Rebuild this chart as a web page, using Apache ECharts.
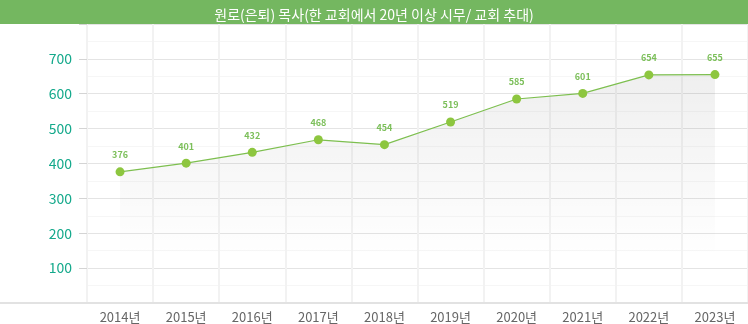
<!DOCTYPE html>
<html>
<head>
<meta charset="utf-8">
<script src="https://cdn.jsdelivr.net/npm/echarts@6/dist/echarts.min.js"></script>
<style>
  html, body { margin: 0; padding: 0; background: #fff; }
  #chart { width: 748px; height: 324px; }
</style>
</head>
<body>
<div id="chart"></div>
<script>
// Retired pastors per year
const years = ['2014년', '2015년', '2016년', '2017년', '2018년', '2019년', '2020년', '2021년', '2022년', '2023년'];
const pastors = [376, 401, 432, 468, 454, 519, 585, 601, 654, 655];
const yTicks = [100, 200, 300, 400, 500, 600, 700];
const titleText = '원로(은퇴) 목사(한 교회에서 20년 이상 시무/ 교회 추대)';

const FONT = '"Noto Sans CJK KR", "Noto Sans", sans-serif';
const chart = echarts.init(document.getElementById('chart'), null, { renderer: 'canvas' });

chart.setOption({
  animation: false,
  backgroundColor: '#ffffff',
  title: {
    text: titleText,
    left: 'center',
    top: 3,
    textStyle: { color: '#ffffff', fontSize: 14, fontWeight: 'normal', fontFamily: FONT }
  },
  graphic: [
    { type: 'rect', z: -1, shape: { x: 0, y: 0, width: 748, height: 24 }, style: { fill: '#74b760' } },
    { type: 'rect', z: 10, shape: { x: 0, y: 302, width: 748, height: 2 }, style: { fill: '#e2e2e2' } }
  ],
  grid: { left: 87, right: -1, top: 24, bottom: 20 },
  xAxis: {
    type: 'category',
    data: years,
    boundaryGap: true,
    axisLine: { show: false },
    axisTick: { show: false },
    axisLabel: { color: '#666666', fontSize: 13, fontFamily: FONT, margin: 8 },
    splitLine: { show: true, lineStyle: { color: '#f2f2f2', width: 2 } }
  },
  yAxis: {
    type: 'value',
    min: 0,
    max: 800,
    interval: 100,
    axisLine: { show: false },
    axisTick: { show: true, length: 8, lineStyle: { color: '#d4d4d4' } },
    axisLabel: {
      color: '#14a98b',
      fontSize: 14,
      fontFamily: FONT,
      margin: 15,
      formatter: v => (yTicks.indexOf(v) >= 0 ? String(v) : '')
    },
    splitLine: { show: true, lineStyle: { color: '#e4e4e4', width: 1 } },
    minorTick: { show: false, splitNumber: 2 },
    minorSplitLine: { show: true, lineStyle: { color: '#f6f6f6', width: 1 } }
  },
  series: [{
    type: 'line',
    data: pastors,
    symbol: 'circle',
    symbolSize: 9,
    itemStyle: { color: '#8dc63f' },
    lineStyle: { color: '#7dbf4f', width: 1.2 },
    areaStyle: {
      color: new echarts.graphic.LinearGradient(0, 0, 0, 1, [
        { offset: 0, color: 'rgba(0,0,0,0.09)' },
        { offset: 0.8, color: 'rgba(0,0,0,0)' }
      ])
    },
    label: {
      show: true,
      position: 'top',
      distance: 8,
      color: '#7cbf5a',
      fontSize: 9,
      fontWeight: 'bold',
      fontFamily: FONT
    }
  }]
});
</script>
</body>
</html>
